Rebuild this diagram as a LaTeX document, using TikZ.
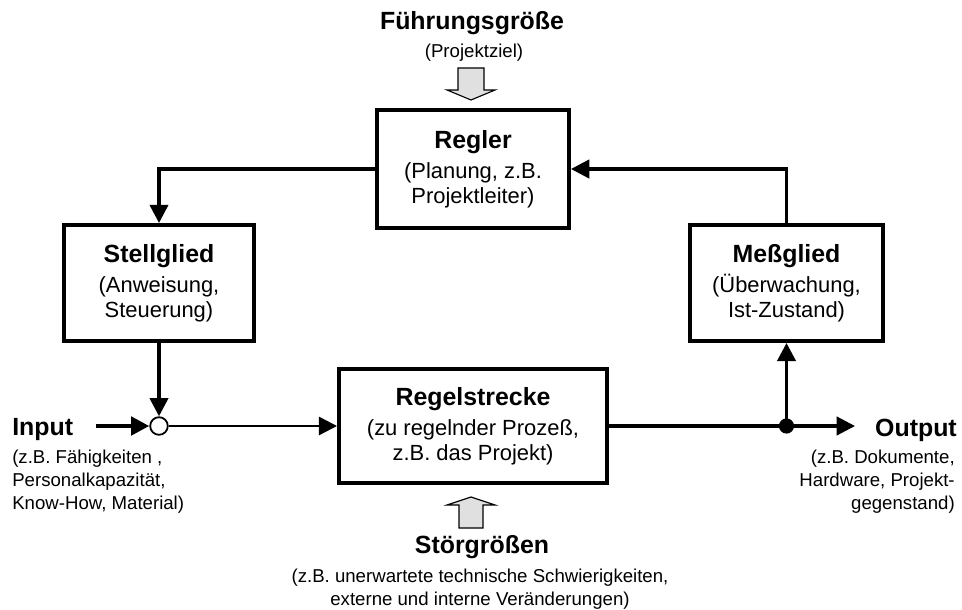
\documentclass[tikz,border=0pt]{standalone}
\usepackage{fontspec}
\setmainfont{Liberation Sans}
\usetikzlibrary{positioning, shapes, arrows.meta}

\newcommand{\boxtitle}[1]{{\bfseries\fontsize{17.7}{20}\selectfont #1}}

\begin{document}
\begin{tikzpicture}[
    box/.style={rectangle, draw, line width=2.8pt, align=center, inner sep=2pt,
      font=\fontsize{15.6}{17.7}\selectfont},
    note/.style={align=center, inner sep=0pt, font=\fontsize{13.25}{16.3}\selectfont},
    head/.style={inner sep=0pt, font=\bfseries\fontsize{17.7}{20}\selectfont},
    tip/.style={-{Triangle[length=13pt, width=13pt]}},
    blockarrow/.style={draw, line width=0.8pt, fill=black!12, line join=miter},
  ]
  \useasboundingbox (0,0) rectangle (24.05,-15.25);

  % Regler
  \node[box, minimum width=4.8cm, minimum height=2.95cm] (regler) at (11.825,-4.225)
    {\boxtitle{Regler}\\[4pt](Planung, z.B.\\Projektleiter)};

  % Stellglied
  \node[box, minimum width=4.75cm, minimum height=2.9cm] (stellglied) at (3.975,-7.075)
    {\boxtitle{Stellglied}\\[4pt](Anweisung,\\Steuerung)};

  % Meßglied
  \node[box, minimum width=4.825cm, minimum height=2.9cm] (messglied) at (19.6625,-7.075)
    {\boxtitle{Meßglied}\\[4pt](Überwachung,\\Ist-Zustand)};

  % Regelstrecke
  \node[box, minimum width=6.7cm, minimum height=2.85cm] (regelstrecke) at (11.825,-10.65)
    {\boxtitle{Regelstrecke}\\[4pt](zu regelnder Prozeß,\\z.B. das Projekt)};

  % Verzweigungen
  \node[circle, draw, line width=1.3pt, fill=white, minimum size=0.44cm, inner sep=0pt] (mix) at (3.975,-10.65) {};
  \node[circle, fill=black, minimum size=0.38cm, inner sep=0pt] (split) at (19.6625,-10.65) {};
  \coordinate (inStart) at (2.4,-10.65);
  \coordinate (outEnd) at (21.375,-10.65);

  % Führungsgröße
  \node[head] (fuehrung) at (11.8,-0.575) {Führungsgröße};
  \node[note] (projektziel) at (11.85,-1.325) {(Projektziel)};
  \coordinate (fuehrTip) at (11.775,-2.5);
  \draw[blockarrow] (fuehrTip) -- ++(0.6,0.25) -- ++(-0.275,0) -- ++(0,0.55) -- ++(-0.65,0)
    -- ++(0,-0.55) -- ++(-0.275,0) -- cycle;

  % Störgrößen
  \coordinate (stoerTip) at (11.775,-12.425);
  \draw[blockarrow] (stoerTip) -- ++(0.6,-0.2) -- ++(-0.3,0) -- ++(0,-0.575) -- ++(-0.6,0)
    -- ++(0,0.575) -- ++(-0.3,0) -- cycle;
  \node[head] (stoer) at (12.05,-13.675) {Störgrößen};
  \node[note] (stoerNote) at (12.0,-14.725)
    {(z.B. unerwartete technische Schwierigkeiten,\\externe und interne Veränderungen)};

  % Input / Output
  \node[head, anchor=west] (input) at (0.3,-10.75) {Input};
  \node[note, align=left, anchor=west] (inputNote) at (0.3,-12.05)
    {(z.B. Fähigkeiten ,\\Personalkapazität,\\Know-How, Material)};
  \node[head, anchor=east] (output) at (23.925,-10.75) {Output};
  \node[note, align=right, anchor=east] (outputNote) at (23.875,-12.05)
    {(z.B. Dokumente,\\Hardware, Projekt-\\gegenstand)};

  % Regelkreis
  \draw[line width=2.4pt, tip] (regler.west) -| (stellglied.north);
  \draw[line width=2.4pt, tip] (messglied.north) |- (regler.east);
  \draw[line width=2.4pt, tip] (stellglied.south) -- (mix.north);
  \draw[line width=3pt, tip] (inStart) -- (mix.west);
  \draw[line width=1.7pt, tip] (mix.east) -- (regelstrecke.west);
  \draw[line width=3pt] (regelstrecke.east) -- (split.center);
  \draw[line width=2.6pt, tip] (split.center) -- (messglied.south);
  \draw[line width=2.2pt, tip] (split.center) -- (outEnd);
\end{tikzpicture}
\end{document}
